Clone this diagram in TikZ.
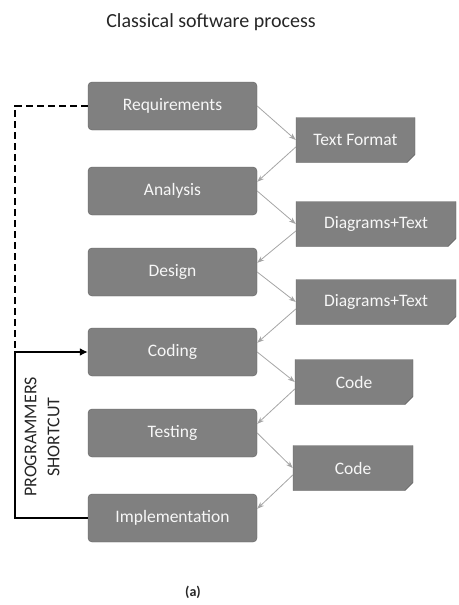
\documentclass[tikz,border=0pt]{standalone}
\usepackage{fontspec}
\setmainfont{Carlito}
\usetikzlibrary{positioning}
\usetikzlibrary{shapes.misc}
\usetikzlibrary{arrows.meta}
\usepackage{xcolor}

\definecolor{boxgray}{RGB}{128,128,128}
\definecolor{boxedge}{RGB}{96,96,96}
\definecolor{flowgray}{RGB}{165,165,165}

\begin{document}
\begin{tikzpicture}[x=1pt,y=-1pt,
  phase/.style={draw=boxedge, fill=boxgray, rounded corners=4pt, text=white!94!gray,
    minimum width=169pt, minimum height=48pt, font=\fontsize{17.5}{20}\selectfont},
  product/.style={draw=boxedge, fill=boxgray, chamfered rectangle,
    chamfered rectangle corners=south east, chamfered rectangle xsep=4pt,
    chamfered rectangle ysep=4pt, text=white!94!gray, minimum height=45pt,
    font=\fontsize{17.5}{20}\selectfont},
  flow/.style={flowgray, line width=0.8pt, -{Stealth[length=7pt,width=5pt]}}]

\useasboundingbox (0,0) rectangle (458,605);

\node[text=black!85] (title) at (211,22) {\fontsize{20}{24}\selectfont Classical software process};

% process steps
\node[phase] (req) at (172.5,106) {Requirements};
\node[phase] (ana) at (172.5,191) {Analysis};
\node[phase] (des) at (172.5,272) {Design};
\node[phase] (cod) at (172.5,352) {Coding};
\node[phase] (tst) at (172.5,433) {Testing};
\node[phase] (imp) at (172.5,518) {Implementation};

% what each step hands on
\node[product, minimum width=119pt] (txt) at (355.5,140) {Text Format};
\node[product, minimum width=160pt] (dia1) at (376,224) {Diagrams+Text};
\node[product, minimum width=160pt] (dia2) at (376,302) {Diagrams+Text};
\node[product, minimum width=118pt] (code1) at (354,382) {Code};
\node[product, minimum width=120pt] (code2) at (353,468) {Code};

\draw[flow] (req.east) -- (txt.west);
\draw[flow] ([yshift=-7pt]txt.west) -- ([yshift=-15pt]ana.north east);
\draw[flow] (ana.east) -- (dia1.west);
\draw[flow] ([yshift=-7pt]dia1.west) -- ([yshift=-15pt]des.north east);
\draw[flow] (des.east) -- (dia2.west);
\draw[flow] ([yshift=-7pt]dia2.west) -- ([yshift=-15pt]cod.north east);
\draw[flow] (cod.east) -- (code1.west);
\draw[flow] ([yshift=-7pt]code1.west) -- ([yshift=-15pt]tst.north east);
\draw[flow] (tst.east) -- (code2.west);
\draw[flow] ([yshift=-7pt]code2.west) -- ([yshift=-15pt]imp.north east);

% the shortcut
\coordinate (corner) at (15,352);
\draw[black, line width=1.2pt, dash pattern=on 7pt off 4pt] (req.west) -| (corner);
\draw[black, line width=2.6pt, -{Latex[length=8pt,width=8pt]}] (imp.west) -| (corner) -- (cod.west);

\node[rotate=90, align=center, text=black!85, font=\fontsize{18}{23}\selectfont] (lbl) at (42,437) {PROGRAMMERS\\SHORTCUT};

\node[text=black!85, font=\fontsize{14}{16}\selectfont\bfseries] (cap) at (193,592) {(a)};

\end{tikzpicture}
\end{document}
